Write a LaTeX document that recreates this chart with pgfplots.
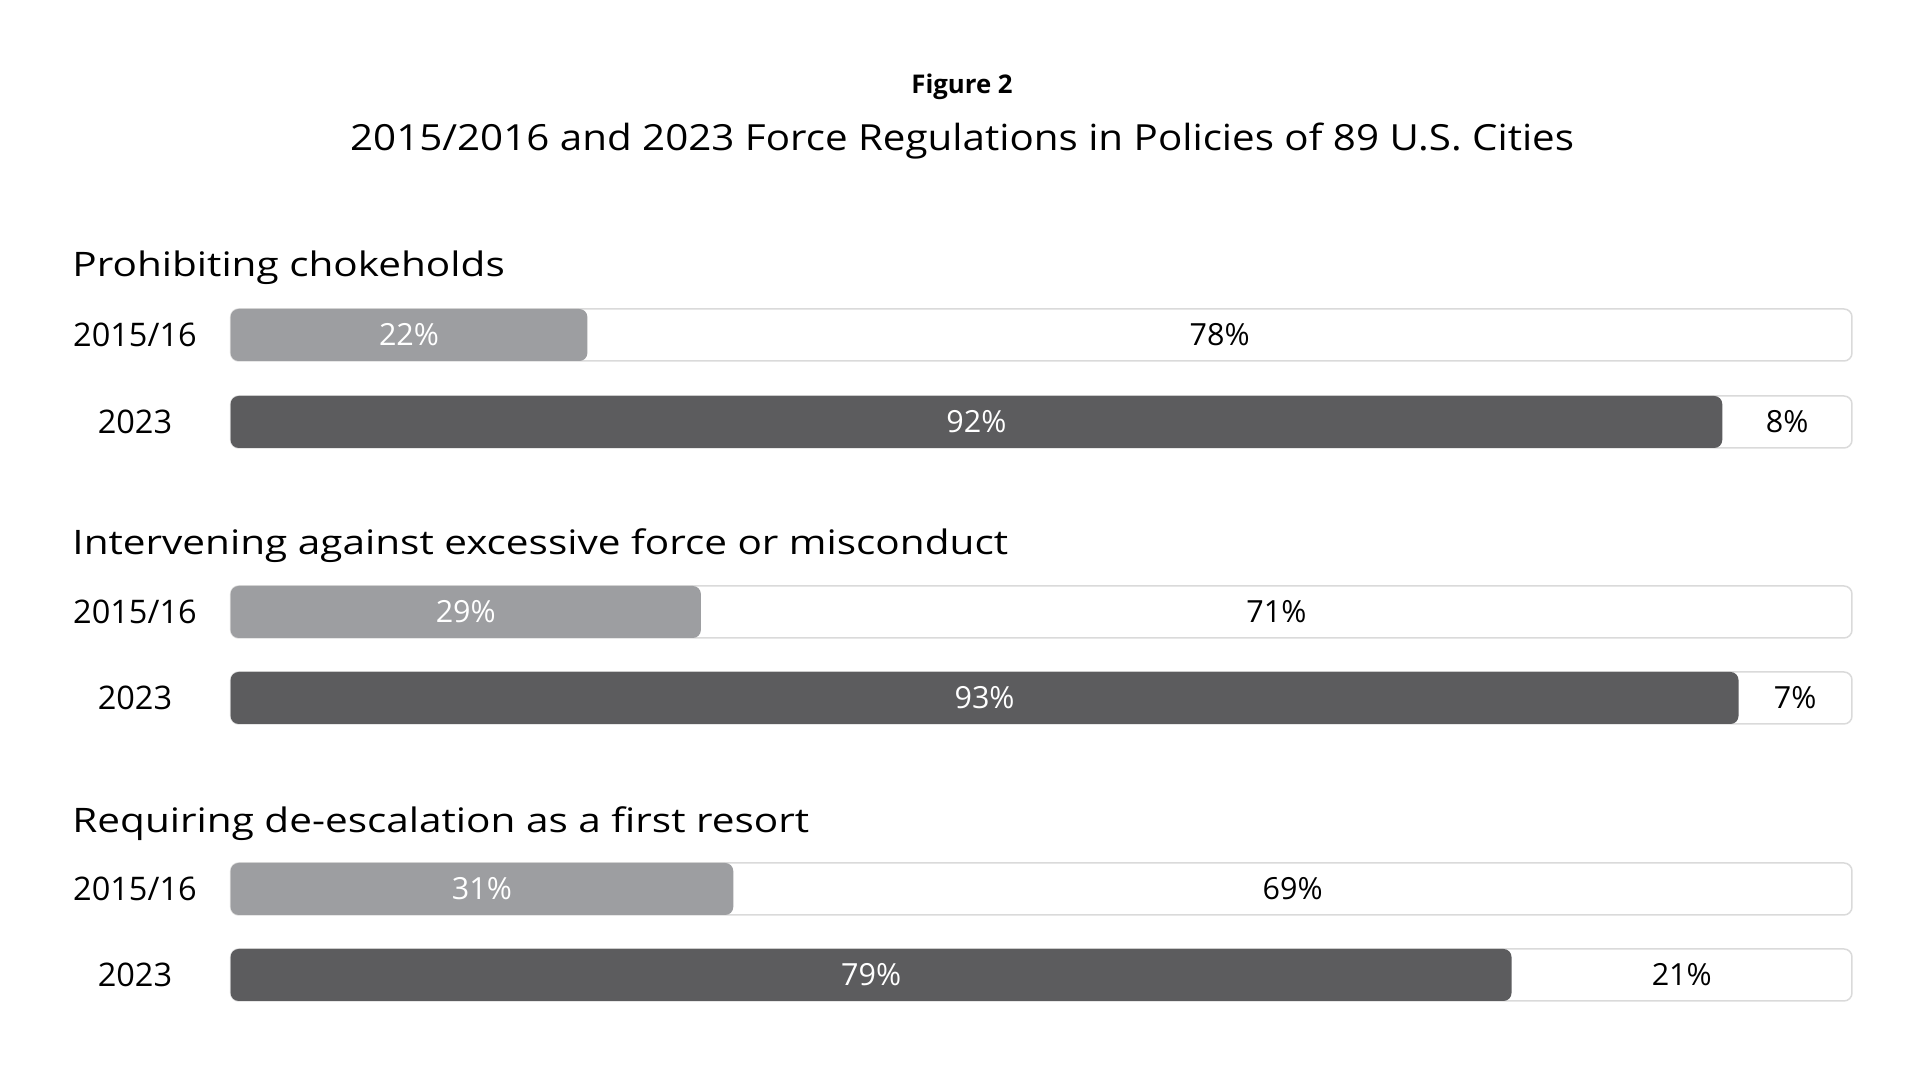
\documentclass[border=0pt]{standalone}
\usepackage{fontspec}
\setmainfont{Open Sans}
\newfontfamily\titlefont[FakeStretch=1.12]{Open Sans}
\newfontfamily\widefont[FakeStretch=1.2]{Open Sans}
\usepackage{pgfplots}
\usepackage{pgfplotstable}
\pgfplotsset{compat=1.18}

\definecolor{lightbar}{RGB}{157,158,161}
\definecolor{darkbar}{RGB}{92,92,94}
\definecolor{rim}{RGB}{218,218,218}

% y = vertical position of the row (px from top, negated), v = share in %
\pgfplotstableread{
y v
-335 22
-612 29
-889 31
}\early
\pgfplotstableread{
y v
-422 92
-698 93
-975 79
}\recent

\begin{document}
\begin{tikzpicture}
\begin{axis}[
  x=6.4853pt, y=0.4pt,
  xmin=0, xmax=100, ymin=-1073, ymax=0,
  /pgf/number format/assume math mode=true,
  axis line style={draw=none},
  xtick=\empty,
  ytick={-335,-422,-612,-698,-889,-975},
  yticklabels={2015/16,2023,2015/16,2023,2015/16,2023},
  major tick length=0pt,
  yticklabel style={anchor=center, xshift=-38.3pt, inner sep=0pt,
    font=\fontsize{13}{15}\selectfont},
  clip=false,
  bar width=52,
  every axis plot/.append style={bar shift=0pt},
  valuelabel/.style={draw=none, mark=none,
    nodes near coords={\pgfmathprintnumber{\pgfplotspointmeta}\%},
    nodes near coords align=center,
    every node near coord/.append style={anchor=center, inner sep=0pt,
      font=\fontsize{12.2}{14}\selectfont},
    point meta=explicit},
]
% track behind each bar
\addplot[xbar, fill=white, draw=rim, line width=0.6pt, rounded corners=3.2pt]
  table[x expr=100, y=y] {\early};
\addplot[xbar, fill=white, draw=rim, line width=0.6pt, rounded corners=3.2pt]
  table[x expr=100, y=y] {\recent};
% filled shares
\addplot[xbar, fill=lightbar, draw=none, rounded corners=3.2pt]
  table[x=v, y=y] {\early};
\addplot[xbar, fill=darkbar, draw=none, rounded corners=3.2pt]
  table[x=v, y=y] {\recent};
% labels
\addplot[valuelabel, nodes near coords style={text=white}]
  table[x expr=\thisrow{v}/2, y=y, meta=v] {\early};
\addplot[valuelabel, nodes near coords style={text=white}]
  table[x expr=\thisrow{v}/2, y=y, meta=v] {\recent};
\addplot[valuelabel, nodes near coords style={text=black}]
  table[x expr=(\thisrow{v}+100)/2, y=y, meta expr=100-\thisrow{v}] {\early};
\addplot[valuelabel, nodes near coords style={text=black}]
  table[x expr=(\thisrow{v}+100)/2, y=y, meta expr=100-\thisrow{v}] {\recent};

\node[anchor=base, inner sep=0pt, font=\bfseries\fontsize{10.3}{12}\selectfont]
  at (axis cs:45.11,-93.3) {Figure 2};
\node[anchor=base, inner sep=0pt, font=\titlefont\fontsize{14.4}{17}\selectfont]
  at (axis cs:45.11,-150.7) {2015/2016 and 2023 Force Regulations in Policies of 89 U.S. Cities};
\begin{scope}[every node/.style={anchor=base west, inner sep=0pt,
    font=\widefont\fontsize{13.5}{16}\selectfont}]
\node at (axis cs:-9.79,-276.7) {Prohibiting chokeholds};
\node at (axis cs:-9.79,-555) {Intervening against excessive force or misconduct};
\node at (axis cs:-9.79,-832.7) {Requiring de-escalation as a first resort};
\end{scope}

\coordinate (bbsw) at (axis cs:-14.229,-1073);
\coordinate (bbne) at (axis cs:104.195,0);
\end{axis}
\pgfresetboundingbox
\path[use as bounding box] (bbsw) rectangle (bbne);
\end{tikzpicture}
\end{document}
